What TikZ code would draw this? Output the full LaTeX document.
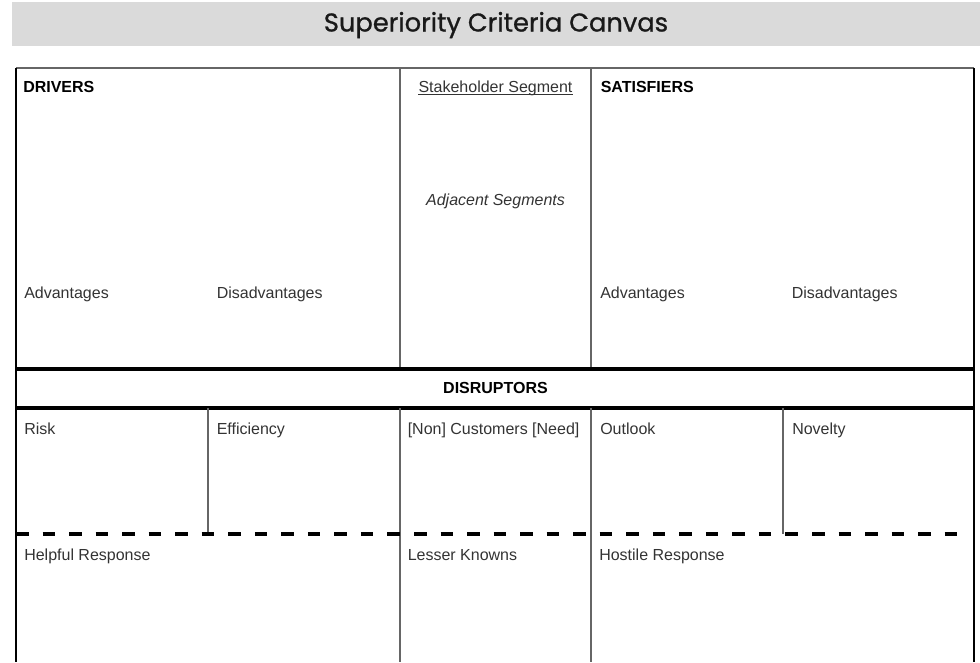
\documentclass[tikz,border=0pt]{standalone}
\usepackage{fontspec}
\setmainfont{Liberation Sans}
\newfontfamily\titlefont[FakeBold=0.9]{Poppins}
\definecolor{barfill}{HTML}{DADADA}
\definecolor{rulegray}{HTML}{666666}
\definecolor{labelgray}{HTML}{333333}
\begin{document}
\begin{tikzpicture}[x=0.75pt,y=-0.75pt,
  thinrule/.style={draw=rulegray,line width=0.9pt},
  edgerule/.style={draw=black,line width=0.9pt},
  thickrule/.style={draw=black,line width=3pt},
  dashrule/.style={draw=black,line width=3pt,dash pattern=on 9.4pt off 10.5pt},
  lbl/.style={anchor=base west,inner sep=0pt,text=labelgray,font=\fontsize{12pt}{14pt}\selectfont},
  hdr/.style={anchor=base west,inner sep=0pt,text=black,font=\fontsize{12pt}{14pt}\selectfont\bfseries},
  ctr/.style={anchor=base,inner sep=0pt,text=labelgray,font=\fontsize{12pt}{14pt}\selectfont}]
\useasboundingbox (0,0) rectangle (980,662);

% title bar
\fill[barfill] (12,2) rectangle (980,46);
\node[anchor=base,inner sep=0pt,font=\titlefont\fontsize{19.3pt}{22pt}\selectfont,text=black!90] (title) at (496,31.5) {Superiority Criteria Canvas};

% outer frame
\draw[thinrule] (16,68) -- (974,68);
\draw[edgerule] (16,68) -- (16,662);
\draw[edgerule] (974,68) -- (974,662);

% column dividers of the upper block
\draw[thinrule] (400,68) -- (400,369);
\draw[thinrule] (591,68) -- (591,369);

% disruptor band
\draw[thickrule] (16,369) -- (974,369);
\draw[thickrule] (16,408) -- (974,408);

% lower block dividers
\draw[thinrule] (208,408) -- (208,534);
\draw[thinrule] (783,408) -- (783,534);
\draw[thinrule] (400,408) -- (400,662);
\draw[thinrule] (591,408) -- (591,662);
\draw[dashrule] (16,534) -- (966,534);

% upper block labels
\node[hdr] (drivers) at (23,92) {DRIVERS};
\node[ctr] (stake) at (495.5,92) {Stakeholder Segment};
\draw[labelgray,line width=0.75pt] ([yshift=-1.6pt]stake.base west) -- ([yshift=-1.6pt]stake.base east);
\node[hdr] (satisfiers) at (600.5,92) {SATISFIERS};
\node[ctr] (adjacent) at (495.5,205) {\itshape Adjacent Segments};
\node[lbl] (advL) at (24,298) {Advantages};
\node[lbl] (disL) at (216.5,298) {Disadvantages};
\node[lbl] (advR) at (600,298) {Advantages};
\node[lbl] (disR) at (791.5,298) {Disadvantages};

% band label
\node[anchor=base,inner sep=0pt,font=\fontsize{12pt}{14pt}\selectfont\bfseries] (disruptors) at (495.5,393) {DISRUPTORS};

% lower block labels
\node[lbl] (risk) at (24,434) {Risk};
\node[lbl] (efficiency) at (216.5,434) {Efficiency};
\node[lbl] (customers) at (407.5,434) {[Non] Customers [Need]};
\node[lbl] (outlook) at (600,434) {Outlook};
\node[lbl] (novelty) at (792,434) {Novelty};
\node[lbl] (helpful) at (24,560) {Helpful Response};
\node[lbl] (lesser) at (407.5,560) {Lesser Knowns};
\node[lbl] (hostile) at (599,560) {Hostile Response};
\end{tikzpicture}
\end{document}
